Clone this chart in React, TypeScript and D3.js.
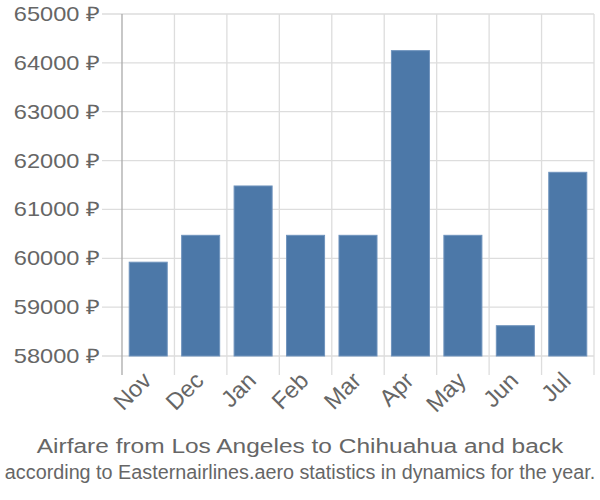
import React, { useLayoutEffect, useRef, useState } from "react";
import * as d3 from "d3";

const months = ["Nov", "Dec", "Jan", "Feb", "Mar", "Apr", "May", "Jun", "Jul"];
const prices = [59920, 60470, 61480, 60470, 60470, 64250, 60470, 58620, 61760];
const yTicks = [58000, 59000, 60000, 61000, 62000, 63000, 64000, 65000];
const title = "Airfare from Los Angeles to Chihuahua and back";
const subtitle = "according to Easternairlines.aero statistics in dynamics for the year.";

const W = 600;
const H = 500;
const left = 122;
const right = 594;
const top = 14;
const bottom = 356;
const font = "'Liberation Sans', Arial, sans-serif";
const sx = 1.18;

export default function App() {
  const subRef = useRef<SVGTextElement>(null);
  const [subScale, setSubScale] = useState(0.92);
  useLayoutEffect(() => {
    if (subRef.current) {
      const w = subRef.current.getComputedTextLength();
      if (w > 0) setSubScale(590 / w);
    }
  }, []);
  const x = d3.scaleBand<string>().domain(months).range([left, right]).paddingInner(0.275).paddingOuter(0.1375);
  const xg = d3.scaleBand<string>().domain(months).range([left, right]);
  const y = d3.scaleLinear().domain([58000, 65000]).range([bottom, top]);
  const grid = "#dddddd";
  return (
    <svg width={W} height={H} style={{ position: "absolute", left: 0, top: 0, background: "#fff" }}>
      {yTicks.map((t) => (
        <line key={"h" + t} x1={102} x2={right} y1={y(t)} y2={y(t)} stroke={grid} strokeWidth={1.3} />
      ))}
      {months.map((m) => (
        <line key={"v" + m} x1={(xg(m) as number) + xg.bandwidth()} x2={(xg(m) as number) + xg.bandwidth()} y1={top} y2={375} stroke={grid} strokeWidth={1.3} />
      ))}
      <line x1={left} x2={left} y1={top} y2={375} stroke="#aaaaaa" strokeWidth={1.3} />
      {yTicks.map((t) => (
        <text key={"t" + t} transform={`translate(100,${y(t)}) scale(${sx},1)`} dy="0.35em" textAnchor="end" fontFamily={font} fontSize={20} fill="#666666">
          {t} ₽
        </text>
      ))}
      {months.map((m, i) => (
        <rect
          key={"b" + m}
          x={x(m) as number}
          y={y(prices[i])}
          width={x.bandwidth()}
          height={bottom - y(prices[i])}
          fill="#4c78a8"
          stroke="#6f93bd"
          strokeWidth={1}
        />
      ))}
      {months.map((m) => {
        const cx = (xg(m) as number) + xg.bandwidth() / 2 + 4.5;
        return (
          <text key={"l" + m} transform={`translate(${cx},${382}) rotate(-45)`} textAnchor="end" fontFamily={font} fontSize={23.5} fill="#666666">
            {m}
          </text>
        );
      })}
      <text transform={`translate(300,453) scale(1.166,1)`} textAnchor="middle" fontFamily={font} fontSize={21} fill="#666666">
        {title}
      </text>
      <text ref={subRef} transform={`translate(300,479) scale(${subScale},1)`} textAnchor="middle" fontFamily={font} fontSize={21} fill="#666666">
        {subtitle}
      </text>
    </svg>
  );
}
